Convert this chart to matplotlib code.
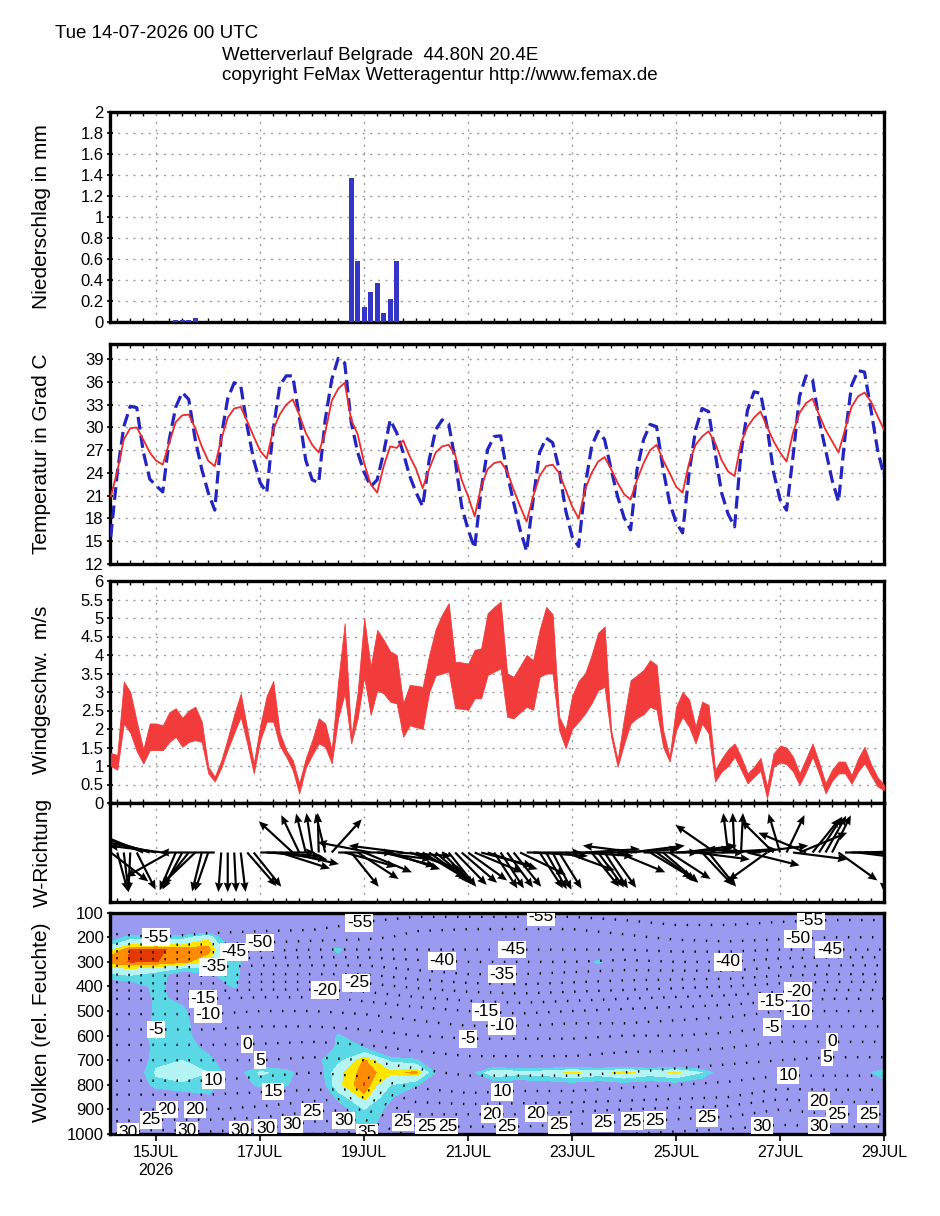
import numpy as np
import matplotlib
matplotlib.use('Agg')
import matplotlib.pyplot as plt

plt.rcParams['font.family'] = ['Liberation Sans', 'DejaVu Sans']

# ---------------- data ----------------
# 3-hourly steps, days since 14 Jul 2026 00 UTC
step_days = np.arange(1, 121) * 0.125

temp_blue = [15.6, 24.0, 30.1, 32.8, 32.6, 26.8, 23.2, 22.3,
             21.5, 28.4, 32.7, 34.6, 33.7, 28.4, 24.5, 21.4,
             19.1, 28.8, 33.8, 35.9, 35.5, 30.1, 25.7, 22.7,
             21.4, 29.7, 35.5, 36.8, 36.8, 31.5, 25.7, 23.1,
             22.7, 31.0, 36.3, 39.1, 38.5, 30.7, 26.7, 24.1,
             22.2, 23.1, 26.7, 31.0, 29.3, 26.7, 23.6, 21.4,
             19.6, 25.7, 29.7, 31.0, 30.5, 25.7, 19.6, 16.5,
             14.1, 21.8, 27.1, 28.8, 28.9, 24.0, 20.1, 16.5,
             13.7, 20.5, 26.7, 28.6, 28.0, 24.5, 19.1, 15.6,
             14.3, 22.2, 27.5, 29.5, 28.4, 24.5, 20.9, 18.1,
             16.5, 24.5, 28.4, 30.4, 30.1, 24.5, 20.1, 17.5,
             16.1, 24.0, 29.7, 32.5, 32.1, 26.7, 21.4, 18.6,
             16.9, 26.7, 32.3, 34.7, 34.5, 30.1, 24.1, 20.5,
             19.1, 26.2, 34.1, 36.8, 36.3, 31.0, 27.1, 23.1,
             20.2, 28.8, 35.5, 37.5, 37.3, 32.3, 27.1, 23.6]

temp_red = [20.9, 24.2, 28.4, 29.9, 30.0, 28.4, 26.7, 25.6,
            25.1, 28.0, 30.7, 31.6, 31.7, 29.9, 27.5, 25.6,
            24.9, 28.4, 31.3, 32.5, 32.7, 30.8, 28.8, 26.9,
            25.9, 29.7, 31.7, 33.0, 33.7, 31.7, 29.3, 27.7,
            26.7, 29.3, 33.5, 35.1, 35.9, 31.0, 29.1, 25.3,
            22.5, 21.4, 24.9, 27.5, 27.3, 28.3, 26.2, 24.5,
            22.0, 24.5, 26.7, 27.5, 27.7, 26.4, 23.1, 20.9,
            18.3, 22.2, 24.5, 25.3, 25.5, 24.2, 21.8, 19.6,
            17.6, 20.9, 23.6, 24.9, 25.1, 24.0, 21.8, 19.6,
            18.0, 21.8, 24.0, 25.5, 26.1, 24.5, 22.7, 21.2,
            20.5, 23.1, 25.3, 27.0, 27.7, 25.7, 24.0, 22.2,
            21.4, 25.3, 27.7, 28.8, 29.5, 28.0, 25.7, 24.2,
            23.6, 28.0, 30.1, 31.3, 32.1, 30.1, 28.2, 26.7,
            25.5, 29.3, 31.9, 33.2, 33.8, 31.7, 29.7, 28.2,
            26.7, 29.7, 32.7, 34.1, 34.6, 33.4, 31.5, 29.7]

wind_hi = [1.35, 1.30, 3.28, 3.00, 2.20, 1.45, 2.15, 2.15,
           2.10, 2.45, 2.56, 2.30, 2.50, 2.60, 2.20, 0.98,
           0.71, 1.15, 1.75, 2.40, 2.96, 2.00, 1.07, 2.10,
           2.90, 3.30, 1.90, 1.43, 1.16, 0.53, 1.20, 1.70,
           2.29, 2.15, 1.43, 3.30, 4.86, 1.79, 3.00, 5.00,
           3.68, 4.68, 4.41, 4.10, 4.00, 2.69, 3.19, 3.17,
           3.14, 4.00, 4.70, 5.10, 5.40, 3.82, 3.80, 3.77,
           4.14, 4.18, 5.13, 5.30, 5.44, 3.50, 3.41, 3.70,
           4.00, 3.86, 4.68, 5.30, 5.10, 2.33, 1.97, 2.90,
           3.30, 3.50, 4.00, 4.60, 4.77, 1.97, 1.16, 2.30,
           3.32, 3.45, 3.60, 3.86, 3.73, 1.97, 1.25, 2.60,
           3.00, 2.80, 2.06, 2.74, 2.65, 0.89, 1.20, 1.45,
           1.61, 1.25, 0.80, 0.98, 1.22, 0.44, 1.34, 1.55,
           1.50, 1.25, 0.80, 1.20, 1.61, 1.10, 0.53, 0.90,
           1.12, 1.12, 0.75, 1.20, 1.52, 1.05, 0.70, 0.49]

wind_lo = [1.00, 0.90, 2.15, 1.90, 1.40, 1.07, 1.43, 1.43,
           1.43, 1.65, 1.79, 1.52, 1.65, 1.70, 1.65, 0.80,
           0.58, 0.95, 1.45, 1.90, 2.33, 1.60, 0.80, 1.70,
           2.20, 2.20, 1.55, 1.25, 0.89, 0.26, 0.95, 1.30,
           1.61, 1.52, 1.07, 2.30, 2.96, 1.61, 2.30, 3.41,
           2.38, 3.05, 2.96, 2.74, 2.69, 1.79, 2.10, 2.05,
           2.00, 3.00, 3.45, 3.50, 3.55, 2.56, 2.55, 2.52,
           2.83, 2.83, 3.46, 3.55, 3.64, 2.33, 2.29, 2.45,
           2.60, 2.52, 3.41, 3.50, 3.50, 1.97, 1.48, 2.00,
           2.20, 2.42, 2.70, 3.05, 3.14, 1.79, 0.98, 1.60,
           2.15, 2.30, 2.40, 2.60, 2.52, 1.52, 1.12, 1.97,
           2.33, 2.06, 1.61, 2.15, 1.88, 0.58, 0.85, 1.00,
           1.25, 0.90, 0.53, 0.71, 0.87, 0.13, 0.98, 1.10,
           1.05, 0.85, 0.49, 0.85, 1.25, 0.80, 0.26, 0.60,
           0.80, 0.80, 0.52, 0.85, 1.07, 0.75, 0.45, 0.35]

# arrow direction on the plot (degrees, 0 = pointing right, 90 = up)
wind_dir = [-47, -79, -85, -92, -70, 150, 157, 164,
            170, -142, -107, -111, -120, -127, -100, -104,
            180, -93, -90, -88, -85, -58, -60, 0,
            -5, -10, -24, -17, 128, 109, 100, 96,
            91, 100, 57, 0, -21, -60, -42, -30,
            165, -10, -20, -25, -5, 170, -25, -30,
            -40, -45, -50, -55, -60, -55, -50, -45,
            -30, -20, -25, -65, -65, -62, -60, -34,
            0, -5, -65, -68, -70, -66, -27, 0,
            -5, 5, -60, -62, -65, -63, -30, 5,
            10, 170, 0, -40, -45, -50, -42, 5,
            10, 0, -10, -56, -60, 136, 5, 95,
            92, 88, -19, 10, 175, -135, 126, 102,
            71, -10, 30, 150, 60, 65, 68, 70,
            -45, 0, 0, -10, 0, 5, -20, -90]

rain_days = [1.375, 1.5, 1.625, 1.75, 4.75, 4.875, 5.0, 5.125, 5.25, 5.375, 5.5, 5.625]
rain_mm = [0.015, 0.015, 0.01, 0.03, 1.37, 0.58, 0.14, 0.28, 0.37, 0.08, 0.21, 0.58]

tick_days = [1, 3, 5, 7, 9, 11, 13, 15]
tick_labels = ['15JUL\n2026', '17JUL', '19JUL', '21JUL', '23JUL', '25JUL', '27JUL', '29JUL']

# cloud panel: relative humidity (%) every 12 h (columns) on pressure levels (rows)
cloud_days = np.arange(31) * 0.5
cloud_levels = [100, 150, 200, 250, 300, 350, 400, 450, 500, 550, 600, 650,
                700, 750, 800, 850, 900, 950, 1000]
rh = [
 [30, 30, 30, 30, 30, 30, 30, 30, 30, 30, 30, 30, 30, 30, 30, 30, 30, 30, 30, 30, 30, 30, 30, 30, 30, 30, 30, 30, 30, 30, 30],
 [35, 35, 35, 35, 35, 35, 35, 35, 35, 35, 35, 35, 35, 35, 35, 35, 35, 35, 35, 35, 35, 35, 35, 35, 35, 35, 35, 35, 35, 35, 35],
 [55, 75, 78, 76, 88, 45, 40, 40, 40, 40, 40, 40, 40, 40, 40, 40, 40, 40, 40, 40, 40, 40, 40, 40, 40, 40, 40, 40, 40, 40, 40],
 [85, 99.3, 99.6, 98, 97.5, 66, 45, 45, 55, 74, 45, 45, 45, 45, 45, 45, 45, 45, 45, 45, 45, 45, 45, 45, 45, 45, 45, 45, 45, 45, 45],
 [97, 99.2, 99.1, 97, 90, 76, 50, 45, 45, 60, 45, 45, 45, 45, 45, 45, 45, 45, 45, 74, 45, 45, 45, 45, 45, 45, 45, 45, 45, 45, 45],
 [78, 82, 76, 62, 68, 76, 45, 45, 45, 45, 45, 45, 45, 45, 45, 45, 45, 45, 45, 50, 45, 45, 45, 45, 45, 45, 45, 45, 45, 45, 45],
 [58, 60, 74, 62, 55, 72, 45, 45, 45, 45, 45, 45, 45, 45, 45, 45, 45, 45, 45, 45, 45, 45, 45, 45, 45, 45, 45, 45, 45, 45, 45],
 [45, 50, 74, 65, 50, 55, 45, 45, 45, 45, 45, 45, 45, 45, 45, 45, 45, 45, 45, 45, 45, 45, 45, 45, 45, 45, 45, 45, 45, 45, 45],
 [45, 45, 74, 74, 50, 45, 45, 45, 45, 45, 45, 45, 45, 45, 45, 45, 45, 45, 45, 45, 45, 45, 45, 45, 45, 45, 45, 45, 45, 45, 45],
 [45, 45, 76, 76, 55, 45, 45, 45, 45, 50, 45, 45, 45, 45, 45, 45, 45, 45, 45, 45, 45, 45, 45, 45, 45, 45, 45, 45, 45, 45, 45],
 [45, 45, 81, 78, 55, 45, 45, 45, 45, 72, 50, 45, 45, 45, 45, 45, 45, 45, 45, 45, 45, 45, 45, 45, 45, 45, 45, 45, 45, 45, 45],
 [45, 48, 76, 77, 66, 45, 45, 45, 45, 74, 70, 45, 45, 45, 45, 45, 45, 45, 45, 45, 45, 45, 45, 45, 45, 45, 45, 45, 45, 45, 45],
 [50, 55, 76, 80, 74, 55, 55, 50, 66, 76, 96, 78, 72, 45, 40, 40, 40, 40, 40, 40, 40, 40, 40, 40, 45, 45, 45, 45, 45, 45, 45],
 [62, 55, 82, 86, 80, 62, 82, 76, 55, 88, 97.5, 92, 97, 60, 62, 90, 84, 86, 92, 86, 93, 86, 92, 80, 55, 45, 45, 45, 45, 62, 78],
 [76, 52, 76, 78, 76, 58, 74, 72, 50, 88, 99.3, 80, 72, 50, 50, 60, 60, 62, 64, 62, 64, 62, 64, 58, 45, 45, 45, 45, 45, 50, 62],
 [76, 50, 55, 62, 68, 55, 50, 50, 45, 74, 93, 72, 50, 45, 45, 45, 45, 45, 45, 45, 45, 45, 45, 45, 45, 45, 45, 45, 45, 45, 45],
 [70, 60, 50, 45, 45, 45, 45, 45, 45, 62, 80, 66, 45, 45, 45, 45, 45, 45, 45, 45, 45, 45, 45, 45, 45, 45, 45, 45, 45, 45, 45],
 [55, 70, 55, 45, 45, 45, 45, 45, 45, 60, 78, 62, 45, 45, 45, 45, 45, 45, 45, 45, 45, 45, 45, 45, 45, 45, 45, 45, 45, 45, 45],
 [50, 68, 52, 45, 45, 45, 45, 45, 45, 55, 76, 60, 45, 45, 45, 45, 45, 45, 45, 45, 45, 45, 45, 45, 45, 45, 45, 45, 45, 45, 45],
]

# cloud panel: temperature (deg C) daily on pressure levels
tgrid_days = np.arange(16)
tgrid_levels = [100, 150, 200, 250, 300, 350, 400, 450, 500, 550, 600, 650,
                700, 750, 800, 850, 900, 950, 1000]
tgrid = [
 [-60, -60, -60, -60, -59, -58, -57, -57, -57, -57, -58, -59, -59, -58, -58, -58],
 [-57, -57, -57, -57, -57, -54, -51, -51, -51, -51, -53, -55, -55, -54, -53, -53],
 [-54, -55, -54, -53, -52, -51, -49, -48, -48, -48, -49, -51, -52, -51, -50, -50],
 [-46, -47, -47, -46, -45, -45, -45, -45, -45, -45, -45, -46, -46, -45, -45, -45],
 [-37, -38, -38, -37, -37, -37, -39, -40, -40, -40, -39, -40, -40, -38, -37, -37],
 [-30, -31, -31, -30, -30, -30, -33, -35, -35, -34, -33, -33, -33, -31, -30, -30],
 [-22, -23, -23, -22, -22, -23, -26, -28, -29, -28, -27, -26, -25, -23, -22, -22],
 [-15, -15, -15, -14, -14, -16, -19, -21, -22, -21, -20, -19, -18, -16, -15, -15],
 [-11, -11, -11, -10, -10, -11, -13, -15, -16, -15, -14, -13, -12, -10, -10, -10],
 [-7, -7, -7, -6, -6, -7, -9, -11, -11, -10, -10, -9, -8, -6, -6, -6],
 [-3, -3, -3, -2, -2, -3, -5, -6, -6, -6, -5, -5, -4, -2, -2, -2],
 [1, 1, 1, 1, 2, 1, -1, -2, -2, -2, -1, -1, 0, 2, 2, 2],
 [5, 5, 5, 5, 6, 5, 3, 1, 1, 1, 2, 3, 4, 5, 6, 6],
 [8, 8, 8, 9, 10, 9, 6, 4, 4, 4, 5, 6, 7, 9, 9, 9],
 [11, 11, 11, 12, 13, 12, 9, 8, 8, 8, 9, 10, 11, 13, 13, 13],
 [16, 16, 16, 17, 18, 20, 13, 11, 12, 12, 13, 14, 15, 19, 18, 18],
 [20, 20, 20, 21, 24, 25, 18, 18, 18, 19, 20, 21, 22, 25, 23, 23],
 [25, 26, 26, 27, 30, 31, 23, 23, 23, 24, 25, 26, 27, 29, 28, 28],
 [30, 32, 31, 32, 35, 36, 28, 28, 28, 29, 30, 31, 32, 33, 33, 33],
]

# where the contour labels sit (day, hPa), as in the reference
label_spots = [(1.0, 211), (3.0, 224), (2.5, 264), (2.1, 320), (1.9, 441), (2.0, 508),
               (1.0, 577), (2.75, 630), (3.0, 700), (2.1, 780), (3.25, 829), (1.2, 895),
               (1.75, 915), (0.9, 935), (0.45, 985), (1.6, 970), (2.6, 963), (3.1, 975),
               (3.6, 950), (4.0, 915), (4.6, 935), (5.05, 995), (4.25, 406), (4.85, 374),
               (4.9, 130), (6.5, 304), (5.75, 950), (6.2, 963), (6.6, 963), (7.0, 618),
               (7.65, 560), (7.35, 505), (7.65, 341), (7.85, 252), (8.4, 137), (7.65, 830),
               (7.45, 912), (7.75, 985), (8.3, 923), (8.75, 990), (9.6, 971),
               (10.15, 971), (10.6, 955), (11.6, 930), (12.0, 300), (12.65, 963),
               (13.6, 116), (13.35, 205), (13.95, 252), (13.35, 414), (12.85, 467),
               (13.35, 516), (12.85, 577), (14.0, 617), (13.9, 679), (13.15, 766),
               (13.75, 860), (14.1, 910), (13.75, 965), (14.7, 935)]

# ---------------- figure ----------------
X0, X1 = 0.11, 15.0
FW, FH = 940, 1216
fig = plt.figure(figsize=(FW / 100, FH / 100), dpi=100)
L, W = 110 / FW, 774 / FW


def add(top, bottom):
    return fig.add_axes([L, 1 - bottom / FH, W, (bottom - top) / FH])


GRID = dict(color='#9c9c9c', linestyle=(0, (1.5, 4)), linewidth=1.0)


def style(ax, ygrid=True):
    ax.set_xlim(X0, X1)
    for s in ax.spines.values():
        s.set_linewidth(2.4)
    ax.set_xticks(tick_days)
    ax.set_xticklabels([])
    ax.set_xticks(np.arange(0.25, 15, 0.25), minor=True)
    ax.tick_params(axis='x', which='major', length=0)
    ax.tick_params(axis='x', which='minor', direction='in', length=3, width=1,
                   top=True, bottom=True)
    ax.tick_params(axis='y', direction='inout', length=5, width=1.2,
                   labelsize=12, pad=2)
    ax.grid(True, axis='x', which='major', **GRID)
    if ygrid:
        ax.grid(True, axis='y', which='major', **GRID)
    ax.set_axisbelow(True)


fmt = matplotlib.ticker.FuncFormatter(lambda v, p: '%g' % v)

# precipitation
ax1 = add(111.7, 321.5)
ax1.bar(rain_days, rain_mm, width=0.1, color='#3535c8', align='center', zorder=3)
ax1.set_ylim(0, 2)
ax1.set_yticks(np.arange(0, 2.01, 0.2))
ax1.yaxis.set_major_formatter(fmt)
style(ax1)

# temperature
ax2 = add(344, 564)
ax2.plot(step_days, temp_blue, color='#2424c0', lw=2.3, linestyle=(0, (4, 1.8)), zorder=3)
ax2.plot(step_days, temp_red, color='#ee2a2a', lw=1.3, zorder=4)
ax2.set_ylim(12, 41)
ax2.set_yticks(np.arange(12, 40, 3))
style(ax2)

# wind speed
ax3 = add(581, 803)
ax3.fill_between(step_days, wind_lo, wind_hi, color='#f23c3c', lw=0.6,
                 edgecolor='#f23c3c', zorder=3)
ax3.set_ylim(0, 6)
ax3.set_yticks(np.arange(0, 6.01, 0.5))
ax3.yaxis.set_major_formatter(fmt)
style(ax3)

# wind direction
ax4 = add(803, 902)
ang = np.deg2rad(wind_dir)
u = 1.06 * np.cos(ang)
v = np.sin(ang)
ax4.quiver(step_days, np.zeros_like(step_days), u, v, angles='xy',
           scale_units='xy', scale=1, pivot='tail', color='black',
           width=0.0028, headwidth=3.8, headlength=4.4, headaxislength=4.0,
           zorder=3)
ax4.set_ylim(-1.25, 1.25)
ax4.set_yticks([])
style(ax4, ygrid=False)

# clouds
ax5 = add(912.7, 1134)
cloud_colors = ['#9a9af0', '#5ad8e6', '#b4f4f4', '#ffe600', '#ff8c00', '#e23a00']
ax5.contourf(cloud_days, cloud_levels, np.array(rh, float),
             levels=[0, 70, 80, 90, 95, 99, 101], colors=cloud_colors, zorder=1)
cs = ax5.contour(tgrid_days, tgrid_levels, np.array(tgrid, float),
                 levels=np.arange(-55, 40, 5), colors='black', linewidths=1.7,
                 zorder=2)
cs.set_linestyle((0, (0.6, 4.5)))
ax5.set_ylim(1000, 100)
ax5.set_xlim(X0, X1)
labs = ax5.clabel(cs, fmt='%d', fontsize=12.5, inline=True, inline_spacing=1,
                  manual=label_spots)
for t in labs:
    t.set_rotation(0)
    t.set_bbox(dict(boxstyle='square,pad=0.08', fc='white', ec='none'))
    t.set_zorder(5)
ax5.set_yticks(np.arange(100, 1001, 100))
style(ax5, ygrid=False)
ax5.grid(False)
ax5.set_xticklabels(tick_labels, fontsize=11.5)
ax5.tick_params(axis='x', which='major', length=5, width=1.2, direction='out', pad=3)

# y labels
ylab = dict(rotation=90, ha='center', va='center', fontsize=15)
fig.text(42 / FW, 1 - 217 / FH, 'Niederschlag in mm', **ylab)
fig.text(42 / FW, 1 - 454 / FH, 'Temperatur in Grad C', **ylab)
fig.text(42 / FW, 1 - 690 / FH, 'Windgeschw.  m/s', **ylab)
fig.text(42 / FW, 1 - 852 / FH, 'W-Richtung', **ylab)
fig.text(42 / FW, 1 - 1022 / FH, 'Wolken (rel. Feuchte)', **ylab)

# header
fig.text(55 / FW, 1 - 33 / FH, 'Tue 14-07-2026 00 UTC', fontsize=13.5, va='center')
fig.text(222 / FW, 1 - 55 / FH, 'Wetterverlauf Belgrade  44.80N 20.4E', fontsize=13.5, va='center')
fig.text(222 / FW, 1 - 75 / FH, 'copyright FeMax Wetteragentur http://www.femax.de',
         fontsize=13.5, va='center')

fig.savefig('out.png', dpi=100)
